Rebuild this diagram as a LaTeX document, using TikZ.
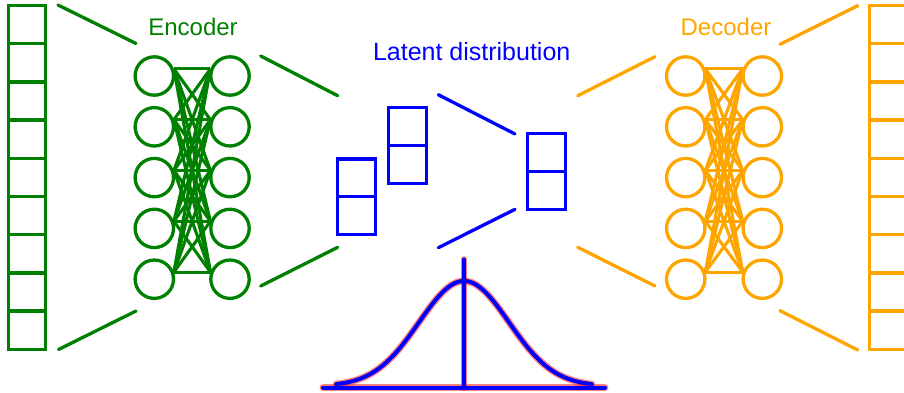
\documentclass[tikz,border=0pt]{standalone}
\usepackage{fontspec}
\setmainfont{Liberation Sans}
\definecolor{encgreen}{RGB}{0,128,0}
\definecolor{decorange}{RGB}{255,165,0}
\definecolor{latblue}{RGB}{0,0,255}
\tikzset{
  cell/.style={draw, rectangle, minimum width=37pt, minimum height=38.2pt, inner sep=0pt, line width=3.3pt},
  zcell/.style={draw, rectangle, minimum width=38pt, minimum height=37.7pt, inner sep=0pt, line width=3.3pt},
  neuron/.style={draw, circle, minimum size=38.4pt, inner sep=0pt, line width=3.3pt},
  funnel/.style={line width=3.3pt, line cap=round},
  link/.style={line width=3.1pt},
  lbl/.style={inner sep=0pt, font=\fontsize{24}{28}\selectfont, anchor=base},
  halo/.style={red, opacity=0.5, line width=6.8pt, line cap=round, line join=round},
  bell/.style={latblue, line width=4pt, line cap=round, line join=round},
}
\begin{document}
\begin{tikzpicture}[x=1pt,y=-1pt]
\useasboundingbox (0,0) rectangle (904,392);

% input and output columns
\foreach \i in {1,...,9} {
  \node[cell, encgreen] (in\i) at (27, {5.5+38.2*(\i-0.5)}) {};
  \node[cell, decorange] (out\i) at (888, {5.5+38.2*(\i-0.5)}) {};
}

% encoder / decoder neurons
\foreach \i in {1,...,5} {
  \node[neuron, encgreen] (ea\i) at (154.3, {76+50.8*(\i-1)}) {};
  \node[neuron, encgreen] (eb\i) at (230, {76+50.8*(\i-1)}) {};
  \node[neuron, decorange] (da\i) at (685.7, {76+50.8*(\i-1)}) {};
  \node[neuron, decorange] (db\i) at (762.3, {76+50.8*(\i-1)}) {};
}
\foreach \i in {1,...,5} {
  \foreach \j in {1,...,5} {
    \draw[link, encgreen] (ea\i.20) -- (eb\j.160);
    \draw[link, decorange] (da\i.20) -- (db\j.160);
  }
}

% latent boxes
\node[zcell, latblue] (z1a) at (356.7, 177.8) {};
\node[zcell, latblue] (z1b) at (356.7, 215.5) {};
\node[zcell, latblue] (z2a) at (407.5, 126.6) {};
\node[zcell, latblue] (z2b) at (407.5, 164.4) {};
\node[zcell, latblue] (z3a) at (546.7, 152.3) {};
\node[zcell, latblue] (z3b) at (546.7, 190.3) {};

% funnel lines
\coordinate (f1s) at (58,5);      \coordinate (f1e) at (136,43.5);
\coordinate (f2s) at (58.5,349.5);\coordinate (f2e) at (136,311);
\coordinate (f3s) at (260.7,56);  \coordinate (f3e) at (337.7,95.7);
\coordinate (f4s) at (260.7,286); \coordinate (f4e) at (337.7,247.3);
\coordinate (f5s) at (438.3,94.7); \coordinate (f5e) at (515,134);
\coordinate (f6s) at (438.3,247.7);\coordinate (f6e) at (515,209.3);
\coordinate (f7s) at (577.7,95.7); \coordinate (f7e) at (655,56.7);
\coordinate (f8s) at (577.7,247.3);\coordinate (f8e) at (655,286);
\coordinate (f9s) at (780,44.3);   \coordinate (f9e) at (857.7,5.7);
\coordinate (f10s) at (780,310.7); \coordinate (f10e) at (857.7,350);
\draw[funnel, encgreen] (f1s) -- (f1e);
\draw[funnel, encgreen] (f2s) -- (f2e);
\draw[funnel, encgreen] (f3s) -- (f3e);
\draw[funnel, encgreen] (f4s) -- (f4e);
\draw[funnel, latblue] (f5s) -- (f5e);
\draw[funnel, latblue] (f6s) -- (f6e);
\draw[funnel, decorange] (f7s) -- (f7e);
\draw[funnel, decorange] (f8s) -- (f8e);
\draw[funnel, decorange] (f9s) -- (f9e);
\draw[funnel, decorange] (f10s) -- (f10e);

% labels
\node[lbl, encgreen] (enc) at (193,35) {Encoder};
\node[lbl, latblue, font=\fontsize{25}{30}\selectfont] (lat) at (471.7,60) {Latent distribution};
\node[lbl, decorange] (dec) at (726,35) {Decoder};

% bell curve
\coordinate (bl) at (323,387.5);
\coordinate (br) at (605,387.5);
\coordinate (vt) at (464,259.5);
\coordinate (vb) at (464,387.5);
\draw[halo] (bl) -- (br);
\draw[halo] (vt) -- (vb);
\draw[halo] plot[domain=-2.84:2.84, samples=120, smooth] ({464+45*\x}, {386-105*exp(-0.5*\x*\x)});
\draw[bell] (bl) -- (br);
\draw[bell] (vt) -- (vb);
\draw[bell] plot[domain=-2.84:2.84, samples=120, smooth] ({464+45*\x}, {386-105*exp(-0.5*\x*\x)});
\end{tikzpicture}
\end{document}
